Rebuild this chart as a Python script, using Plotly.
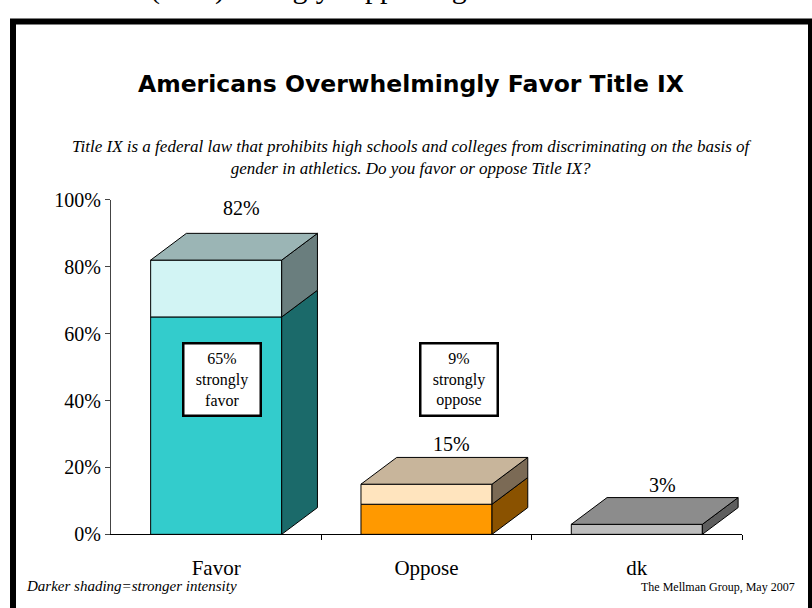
import plotly.graph_objects as go

# ---------------- data ----------------
categories = ["Favor", "Oppose", "dk"]
strong = [65, 9, 3]          # darker shading = strong intensity
total = [82, 15, 3]
total_labels = ["82%", "15%", "3%"]
box_texts = ["65%<br>strongly<br>favor", "9%<br>strongly<br>oppose"]
y_ticks = [0, 20, 40, 60, 80, 100]

# ---------------- styles ----------------
front_strong = ["#33CCCC", "#FF9900", "#BDBDBD"]
side_strong = ["#1B6A6A", "#8A5200", "#5E5E5E"]
top_strong = ["#1B6A6A", "#8A5200", "#8C8C8C"]
front_weak = ["#D2F4F4", "#FFE4BE", "#FFFFFF"]
side_weak = ["#6A7E7E", "#7B6A55", "#5E5E5E"]
top_weak = ["#9BB5B5", "#C8B59B", "#8C8C8C"]

W = 0.623     # front face width (category units)
DX = 0.17     # depth offset, x (category units)
DY = 8.0      # depth offset, y (percent units)
SERIF = "Liberation Serif, Times New Roman, serif"
SANS_BOLD = "DejaVu Sans, Verdana, sans-serif"

W_PX, H_PX = 812, 608
def px_x(p):
    return p / W_PX
def px_y(p):
    return 1 - p / H_PX

xs = list(range(len(categories)))
weak = [t - s for t, s in zip(total, strong)]

fig = go.Figure()

# front faces (real bars)
fig.add_trace(go.Bar(x=xs, y=strong, width=W, marker=dict(color=front_strong, line=dict(color="black", width=1)),
                     hoverinfo="skip", showlegend=False))
wx = [x for x, w in zip(xs, weak) if w > 0]
fig.add_trace(go.Bar(x=wx, y=[weak[i] for i in wx], base=[strong[i] for i in wx], width=W,
                     marker=dict(color=[front_weak[i] for i in wx], line=dict(color="black", width=1)),
                     hoverinfo="skip", showlegend=False))

def poly(xv, yv, color):
    fig.add_trace(go.Scatter(x=xv + [xv[0]], y=yv + [yv[0]], mode="lines", fill="toself",
                             fillcolor=color, line=dict(color="black", width=1),
                             hoverinfo="skip", showlegend=False))

# side and top faces, computed from the same values
for i in xs:
    xr = i + W / 2
    xl = i - W / 2
    segs = [(0, strong[i], side_strong[i])]
    if weak[i] > 0:
        segs.append((strong[i], total[i], side_weak[i]))
    for b, t, c in segs:
        poly([xr, xr + DX, xr + DX, xr], [b, b + DY, t + DY, t], c)
    t = total[i]
    tc = top_weak[i] if weak[i] > 0 else top_strong[i]
    poly([xl, xl + DX, xr + DX, xr], [t, t + DY, t + DY, t], tc)

annotations = []
for i in xs:
    annotations.append(dict(x=i + 0.12, y=total[i] + DY, xref="x", yref="y", text=total_labels[i],
                            showarrow=False, yanchor="bottom", yshift=12 if i == 0 else 0,
                            font=dict(family=SERIF, size=20, color="black")))

box_pos = [(0.03, 46.4), (1.155, 46.4)]
for (bx, by), txt in zip(box_pos, box_texts):
    annotations.append(dict(x=bx, y=by, xref="x", yref="y", text=txt, showarrow=False,
                            font=dict(family=SERIF, size=16, color="black"),
                            bgcolor="white", bordercolor="black", borderwidth=2.5, borderpad=2,
                            width=71, height=66, align="center", valign="middle"))

# titles and footers
annotations += [
    dict(x=px_x(411), y=px_y(76), xref="paper", yref="paper", yanchor="middle",
         text="<b>Americans Overwhelmingly Favor Title IX</b>",
         showarrow=False, font=dict(family=SANS_BOLD, size=23.5, color="black")),
    dict(x=px_x(412), y=px_y(152), xref="paper", yref="paper", yanchor="middle",
         text="<i>Title IX is a federal law that prohibits high schools and colleges from discriminating on the basis of"
              "<br>gender in athletics. Do you favor or oppose Title IX?</i>",
         showarrow=False, font=dict(family=SERIF, size=17, color="black")),
    dict(x=px_x(24), y=px_y(607), xref="paper", yref="paper", text="<i>Darker shading=stronger intensity</i>",
         xanchor="left", yanchor="bottom", showarrow=False, font=dict(family=SERIF, size=15, color="black")),
    dict(x=px_x(797), y=px_y(607), xref="paper", yref="paper", text="The Mellman Group, May 2007",
         xanchor="right", yanchor="bottom", showarrow=False, font=dict(family=SERIF, size=12, color="black")),
    dict(x=px_x(148), y=px_y(-4), xref="paper", yref="paper", text="(65%) strongly supporting",
         xanchor="left", yanchor="bottom", showarrow=False, font=dict(family=SERIF, size=30, color="black")),
]

shapes = [dict(type="rect", xref="paper", yref="paper", x0=px_x(13), x1=px_x(811), y0=px_y(640), y1=px_y(11),
               line=dict(color="black", width=6), fillcolor="rgba(0,0,0,0)", layer="below")]

fig.update_layout(
    width=W_PX, height=H_PX, margin=dict(l=0, r=0, t=0, b=0),
    paper_bgcolor="white", plot_bgcolor="rgba(0,0,0,0)",
    barmode="overlay", showlegend=False,
    annotations=annotations, shapes=shapes,
    xaxis=dict(domain=[px_x(111), px_x(742)], range=[-0.5, 2.5], tickmode="array", tickvals=xs, ticktext=categories,
               ticks="", showline=True, linecolor="black", linewidth=1, showgrid=False, zeroline=False,
               ticklabelstandoff=14, tickfont=dict(family=SERIF, size=21, color="black"),
               minor=dict(tickmode="array", tickvals=[0.5, 1.5, 2.5], ticks="outside", ticklen=5,
                          tickcolor="black", showgrid=False),
               fixedrange=True),
    yaxis=dict(domain=[px_y(543), px_y(196)], range=[0, 100], tickmode="array", tickvals=y_ticks,
               ticktext=[f"{v}%" for v in y_ticks], ticks="outside", ticklen=5, tickcolor="#444",
               showline=True, linecolor="#444", linewidth=1, showgrid=False, zeroline=False,
               tickfont=dict(family=SERIF, size=20, color="black"), fixedrange=True),
)

fig.write_html("out.html", config={"displayModeBar": False, "staticPlot": True},
               post_script="document.body.style.margin='0';")
